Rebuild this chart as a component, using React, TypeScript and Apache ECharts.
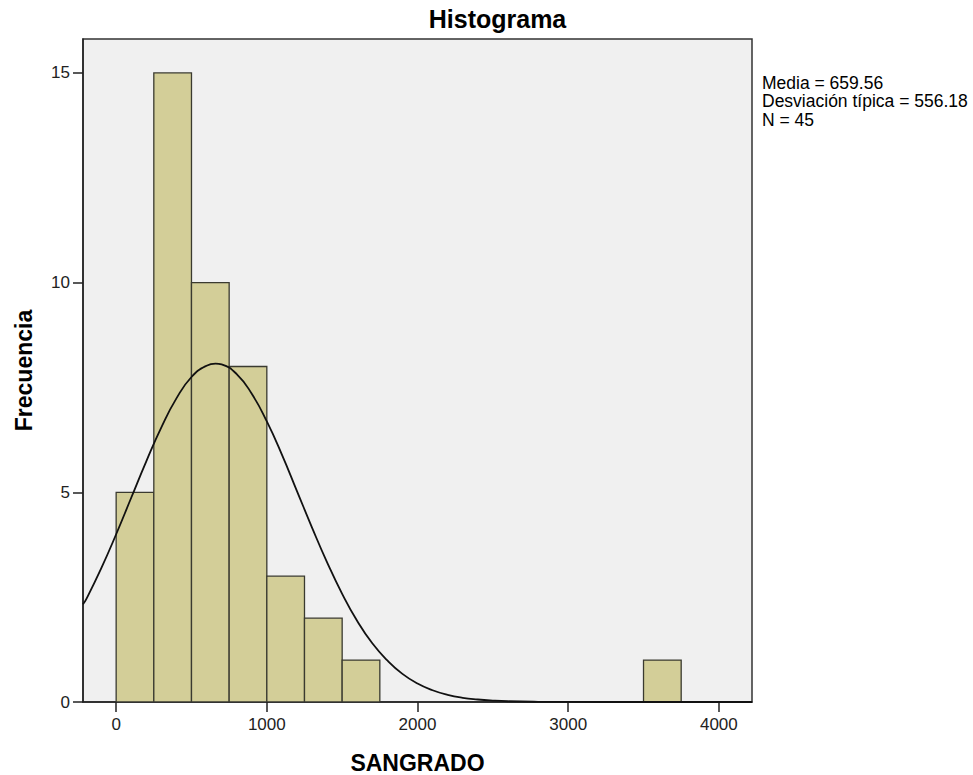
import React, { useEffect, useRef } from "react";
import * as echarts from "echarts";

const binStarts = [0, 250, 500, 750, 1000, 1250, 1500, 3500];
const binWidth = 250;
const counts = [5, 15, 10, 8, 3, 2, 1, 1];

const curveX = [-220, -200, -100, 0, 100, 200, 300, 400, 500, 600, 660, 700, 800, 900, 1000, 1100, 1200, 1300, 1400, 1500, 1600, 1700, 1800, 1900, 2000, 2100, 2200, 2300, 2400, 2500, 2600, 2800, 3000, 3500, 4220];
const curveY = [2.33, 2.44, 3.18, 4.0, 4.87, 5.74, 6.55, 7.24, 7.75, 8.02, 8.07, 8.05, 7.82, 7.35, 6.69, 5.9, 5.03, 4.16, 3.33, 2.58, 1.93, 1.4, 0.99, 0.67, 0.44, 0.28, 0.17, 0.1, 0.06, 0.034, 0.018, 0.005, 0.001, 0, 0];

const xTicks = [0, 1000, 2000, 3000, 4000];
const yTicks = [0, 5, 10, 15];

const statsLines = ["Media = 659.56", "Desviación típica = 556.18", "N = 45"];

export default function App() {
  const ref = useRef<HTMLDivElement>(null);
  useEffect(() => {
    if (!ref.current) return;
    const chart = echarts.init(ref.current, undefined, { renderer: "svg" });
    const font = "Arial, 'Liberation Sans', sans-serif";
    const barData = binStarts.map((s, i) => [s, s + binWidth, counts[i]]);
    const curveData = curveX.map((x, i) => [x, curveY[i]]);
    chart.setOption({
      animation: false,
      backgroundColor: "#ffffff",
      grid: {
        left: 83,
        right: 221,
        top: 39,
        bottom: 73,
        show: true,
        outerBoundsMode: "none",
        containLabel: false,
        backgroundColor: "#f0f0f0",
        borderColor: "#333333",
        borderWidth: 1.5,
      },
      xAxis: {
        type: "value",
        position: "bottom",
        min: -220,
        max: 4220,
        name: "SANGRADO",
        nameLocation: "middle",
        nameGap: 49,
        nameTextStyle: { fontFamily: font, fontSize: 23, fontWeight: "bold", color: "#000" },
        splitLine: { show: false },
        axisLine: { show: true, onZero: false, lineStyle: { color: "#222", width: 1.5 } },
        axisTick: { show: true, inside: false, length: 10, customValues: xTicks, lineStyle: { color: "#222", width: 1.5 } },
        axisLabel: {
          customValues: xTicks,
          fontFamily: font,
          fontSize: 17,
          color: "#222",
          margin: 14,
          formatter: (v: number) => String(v),
        },
      },
      yAxis: {
        type: "value",
        min: 0,
        max: 15.81,
        name: "Frecuencia",
        nameLocation: "middle",
        nameGap: 48,
        nameRotate: 90,
        nameTextStyle: { fontFamily: font, fontSize: 23, fontWeight: "bold", color: "#000" },
        splitLine: { show: false },
        axisLine: { show: true, onZero: false, lineStyle: { color: "#222", width: 1.5 } },
        axisTick: { show: true, inside: false, length: 10, customValues: yTicks, lineStyle: { color: "#222", width: 1.5 } },
        axisLabel: {
          customValues: yTicks,
          fontFamily: font,
          fontSize: 17,
          color: "#222",
          margin: 13,
          formatter: (v: number) => String(v),
        },
      },
      graphic: [
        {
          type: "text",
          x: 497.5,
          y: 18.5,
          style: {
            text: "Histograma",
            fontFamily: font,
            fontSize: 25,
            fontWeight: "bold",
            fill: "#000",
            align: "center",
            verticalAlign: "middle",
          },
        },
        ...statsLines.map((t, i) => ({
          type: "text",
          x: 762,
          y: 82.7 + i * 18.7,
          style: { text: t, fontFamily: font, fontSize: 17.5, fill: "#000", verticalAlign: "middle" },
        })),
      ],
      series: [
        {
          type: "custom",
          clip: true,
          data: barData,
          encode: { x: [0, 1], y: 2 },
          renderItem: (params: any, api: any) => {
            const p0 = api.coord([api.value(0), api.value(2)]);
            const p1 = api.coord([api.value(1), 0]);
            return {
              type: "rect",
              shape: { x: p0[0], y: p0[1], width: p1[0] - p0[0], height: p1[1] - p0[1] },
              style: { fill: "#d3ce98", stroke: "#3a3a30", lineWidth: 1.3 },
            };
          },
        },
        {
          type: "line",
          data: curveData,
          smooth: true,
          symbol: "none",
          clip: true,
          lineStyle: { color: "#111", width: 1.8 },
          z: 5,
        },
      ],
    });
    return () => chart.dispose();
  }, []);
  return (
    <div
      ref={ref}
      style={{ position: "fixed", left: 0, top: 0, width: 973, height: 775 }}
    />
  );
}
